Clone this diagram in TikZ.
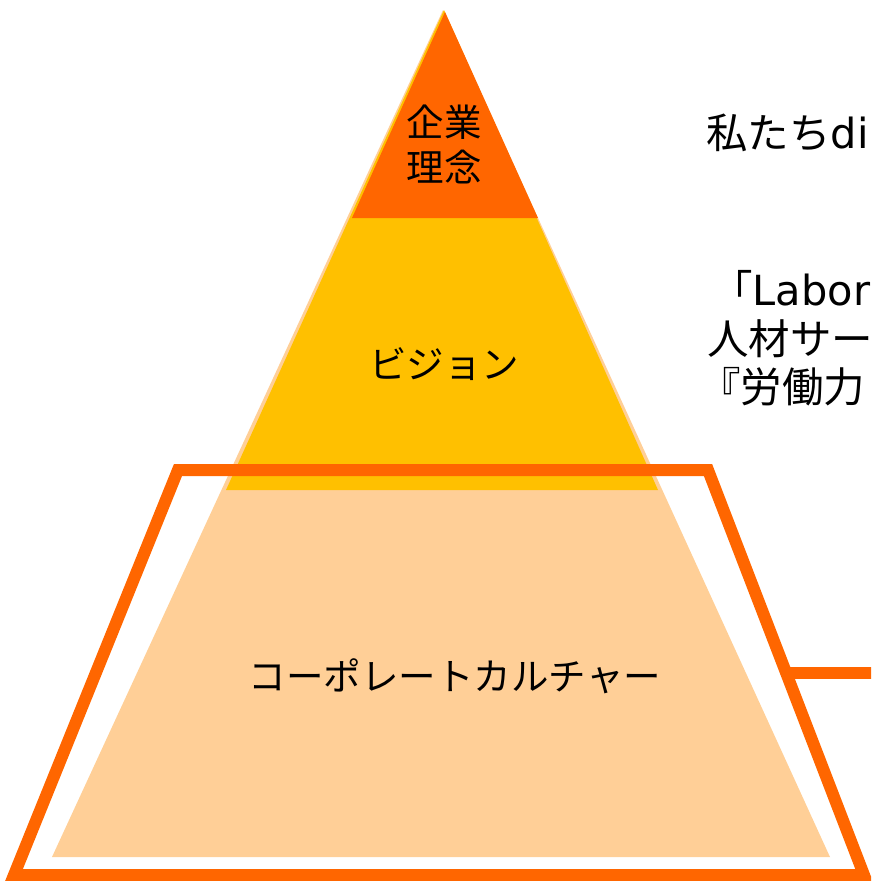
\documentclass[tikz,border=0pt]{standalone}
\usepackage{fontspec}
\setmainfont{Noto Sans CJK JP}
\newfontfamily\latinpart{DejaVu Sans}
\definecolor{topred}{HTML}{FF6600}
\definecolor{midyel}{HTML}{FFC000}
\definecolor{lowpch}{HTML}{FFCF97}
\definecolor{frame}{HTML}{FF6600}
\begin{document}
\begin{tikzpicture}[x=1pt,y=-1pt,
  lbl/.style={font=\fontsize{37.5}{45}\selectfont, text=black, inner sep=0pt, align=center},
  side/.style={font=\fontsize{41.5}{50}\selectfont, text=black, inner sep=0pt, anchor=base west},
  frameline/.style={draw=frame, line width=12pt, miter limit=20}]
\useasboundingbox (0,0) rectangle (871,881);
\clip (0,0) rectangle (871,881);
% pyramid layers
\fill[lowpch] (443,10) -- (830,857) -- (52,857) -- cycle;
\fill[midyel] (444,10) -- (658,490) -- (226,490) -- cycle;
\fill[topred] (445,12) -- (538,218) -- (352,218) -- cycle;
% labels
\node[lbl] (mission) at (444,144) {企業\\理念};
\node[lbl] (vision) at (444,364) {ビジョン};
\node[lbl] (culture) at (455,676) {コーポレートカルチャー};
% frame
\coordinate (ftl) at (178,470);
\coordinate (ftr) at (708,470);
\coordinate (fbr) at (864,875);
\coordinate (fbl) at (14,875);
\draw[frameline] (ftl) -- (ftr) -- (fbr) -- (fbl) -- cycle;
\coordinate (jn) at (786,673);
\coordinate (jend) at (880,673);
\draw[frameline] (jn) -- (jend);
% right-hand texts
\node[side] (t1) at (706,148) {私たち{\latinpart di}};
\node[side] (t2) at (711,305) {「{\latinpart Labor}};
\node[side] (t3) at (707,354) {人材サー};
\node[side] (t4) at (699,402) {『労働力};
\end{tikzpicture}
\end{document}
